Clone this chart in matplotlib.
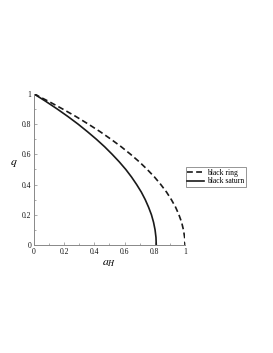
import matplotlib.pyplot as plt
from matplotlib.ticker import FuncFormatter, MultipleLocator

plt.rcParams['font.family'] = ['Liberation Serif', 'DejaVu Serif']
plt.rcParams['mathtext.fontset'] = 'stix'

# values
q = [1.0, 0.95, 0.9, 0.85, 0.8, 0.75, 0.7, 0.65, 0.6, 0.55, 0.5,
     0.45, 0.4, 0.35, 0.3, 0.25, 0.2, 0.15, 0.1, 0.05, 0.0]
a_ring = [0.0, 0.098, 0.19, 0.278, 0.36, 0.438, 0.51, 0.578, 0.64, 0.698, 0.75,
          0.798, 0.84, 0.878, 0.91, 0.938, 0.96, 0.978, 0.99, 0.998, 1.0]
a_saturn = [0.0, 0.079, 0.154, 0.225, 0.292, 0.354, 0.413, 0.468, 0.518, 0.565, 0.608,
            0.646, 0.68, 0.711, 0.737, 0.759, 0.778, 0.792, 0.802, 0.808, 0.81]

fig = plt.figure(figsize=(2.73, 3.53), dpi=100)
ax = fig.add_axes([0.1245, 0.306, 0.553, 0.428])

ax.plot(a_ring, q, color='#1a1a1a', lw=1.2, ls=(0, (3.5, 2)), label='black ring')
ax.plot(a_saturn, q, color='#1a1a1a', lw=1.2, label='black saturn')

ax.set_xlim(0, 1)
ax.set_ylim(0, 1)
for s in ['top', 'right']:
    ax.spines[s].set_visible(False)
for s in ['left', 'bottom']:
    ax.spines[s].set_color('#888888')
    ax.spines[s].set_linewidth(0.7)

fmt = FuncFormatter(lambda v, p: '%g' % v)
ax.xaxis.set_major_locator(MultipleLocator(0.2))
ax.yaxis.set_major_locator(MultipleLocator(0.2))
ax.xaxis.set_minor_locator(MultipleLocator(0.1))
ax.yaxis.set_minor_locator(MultipleLocator(0.1))
ax.xaxis.set_major_formatter(fmt)
ax.yaxis.set_major_formatter(fmt)
ax.tick_params(which='both', direction='in', colors='#888888', labelcolor='#111111',
               labelsize=5.5, width=0.5, pad=2)
ax.tick_params(which='major', length=2.5)
ax.tick_params(which='minor', length=1.5)

ax.set_xlabel('$a_H$', fontsize=8.5, labelpad=1)
ax.set_ylabel('$q$', fontsize=8.5, rotation=0, labelpad=6)

leg = ax.legend(loc='center left', bbox_to_anchor=(1.0, 0.45), fontsize=5.5,
                frameon=True, fancybox=False, borderaxespad=0.1, handlelength=2.2,
                borderpad=0.2, labelspacing=0.1, handletextpad=0.4)
leg.get_frame().set_edgecolor('#666666')
leg.get_frame().set_linewidth(0.6)

fig.savefig('out.png', dpi=100)
